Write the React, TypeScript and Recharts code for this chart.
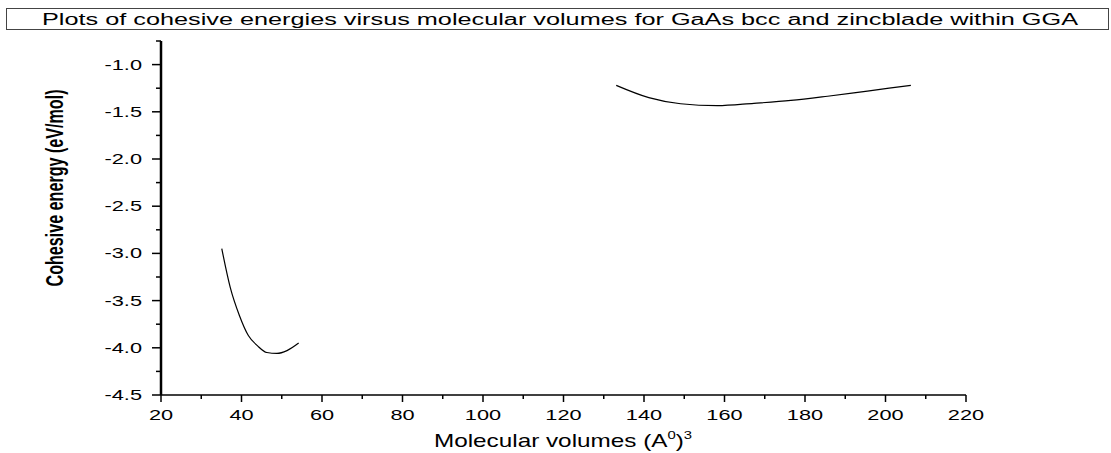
import { LineChart, Line, XAxis, YAxis } from 'recharts';

// GaAs bcc branch (small volumes)
const bccVolumes = [35.1, 37.2, 39.5, 41.7, 44.0, 46.3, 48.8, 51.3, 54.2];
const bccEnergies = [-2.95, -3.36, -3.66, -3.87, -3.98, -4.05, -4.06, -4.03, -3.95];

// GaAs zincblende branch (large volumes)
const zbVolumes = [133.1, 141.2, 149.1, 158.2, 167.3, 176.5, 185.6, 195.5, 206.3];
const zbEnergies = [-1.22, -1.35, -1.415, -1.435, -1.41, -1.38, -1.335, -1.28, -1.22];

const xTicks = [20, 30, 40, 50, 60, 70, 80, 90, 100, 110, 120, 130, 140, 150, 160, 170, 180, 190, 200, 210, 220];
const xLabelled = [20, 40, 60, 80, 100, 120, 140, 160, 180, 200, 220];
const yTicks = [-4.5, -4.25, -4.0, -3.75, -3.5, -3.25, -3.0, -2.75, -2.5, -2.25, -2.0, -1.75, -1.5, -1.25, -1.0, -0.75];
const yLabelled = [-4.5, -4.0, -3.5, -3.0, -2.5, -2.0, -1.5, -1.0];

const bccData = bccVolumes.map((v, i) => ({ x: v, y: bccEnergies[i] }));
const zbData = zbVolumes.map((v, i) => ({ x: v, y: zbEnergies[i] }));

const FONT = '"Liberation Sans", Arial, sans-serif';
const STRETCH = 1.5;

function XTick(props: any) {
  const { x, y, payload } = props;
  const major = xLabelled.includes(payload.value);
  return (
    <g>
      <line x1={x} x2={x} y1={y} y2={y + (major ? 7 : 4)} stroke="#000" strokeWidth={1.5} />
      {major && (
        <text
          transform={`translate(${x},${y + 25}) scale(${STRETCH},1)`}
          textAnchor="middle"
          fontFamily={FONT}
          fontSize={14.5}
          fill="#000"
        >
          {payload.value}
        </text>
      )}
    </g>
  );
}

function YTick(props: any) {
  const { x, y, payload } = props;
  const major = yLabelled.some((v) => Math.abs(v - payload.value) < 1e-6);
  return (
    <g>
      <line x1={x} x2={x - (major ? 9 : 5)} y1={y} y2={y} stroke="#000" strokeWidth={1.5} />
      {major && (
        <text
          transform={`translate(${x - 19},${y + 5}) scale(${STRETCH},1)`}
          textAnchor="end"
          fontFamily={FONT}
          fontSize={14.5}
          fill="#000"
        >
          {payload.value.toFixed(1)}
        </text>
      )}
    </g>
  );
}

export default function App() {
  return (
    <div style={{ position: 'absolute', left: 0, top: 0, width: 1111, height: 453, background: '#fff' }}>
      <LineChart width={1111} height={453} margin={{ top: 41, right: 145, bottom: 0, left: 0 }}>
        <XAxis
          type="number"
          dataKey="x"
          domain={[20, 220]}
          ticks={xTicks}
          interval={0}
          allowDataOverflow
          height={58}
          tickSize={0}
          tickMargin={0}
          tickLine={false}
          axisLine={{ stroke: '#000', strokeWidth: 1.5 }}
          tick={<XTick />}
        />
        <YAxis
          type="number"
          dataKey="y"
          domain={[-4.5, -0.75]}
          ticks={yTicks}
          interval={0}
          allowDataOverflow
          width={161}
          tickSize={0}
          tickMargin={0}
          tickLine={false}
          axisLine={{ stroke: '#000', strokeWidth: 2.5 }}
          tick={<YTick />}
        />
        <Line data={bccData} dataKey="y" type="monotone" stroke="#000" strokeWidth={1.2} dot={false} isAnimationActive={false} />
        <Line data={zbData} dataKey="y" type="monotone" stroke="#000" strokeWidth={1.2} dot={false} isAnimationActive={false} />
      </LineChart>
      <svg width={1111} height={453} style={{ position: 'absolute', left: 0, top: 0, pointerEvents: 'none' }}>
        <rect x={6.5} y={8.5} width={1102} height={21} fill="none" stroke="#444" strokeWidth={1} />
        <text x={42} y={25} fontFamily={FONT} fontSize={16} fill="#000" textLength={1036} lengthAdjust="spacingAndGlyphs">
          Plots of cohesive energies virsus molecular volumes for GaAs bcc and zincblade within GGA
        </text>
        {/* condensed, widened axis title */}
        <text
          transform={`translate(63,188) scale(1.5,1) rotate(-90)`}
          textAnchor="middle"
          fontFamily={FONT}
          fontSize={16}
          fontWeight={600}
          fill="#000"
          textLength={197}
          lengthAdjust="spacingAndGlyphs"
        >
          Cohesive energy (eV/mol)
        </text>
        <text
          transform={`translate(563,447) scale(1.35,1)`}
          textAnchor="middle"
          fontFamily={FONT}
          fontSize={18}
          fill="#000"
        >
          Molecular volumes (A
          <tspan fontSize={11} dy={-8}>0</tspan>
          <tspan dy={8}>)</tspan>
          <tspan fontSize={11} dy={-8}>3</tspan>
        </text>
      </svg>
    </div>
  );
}
